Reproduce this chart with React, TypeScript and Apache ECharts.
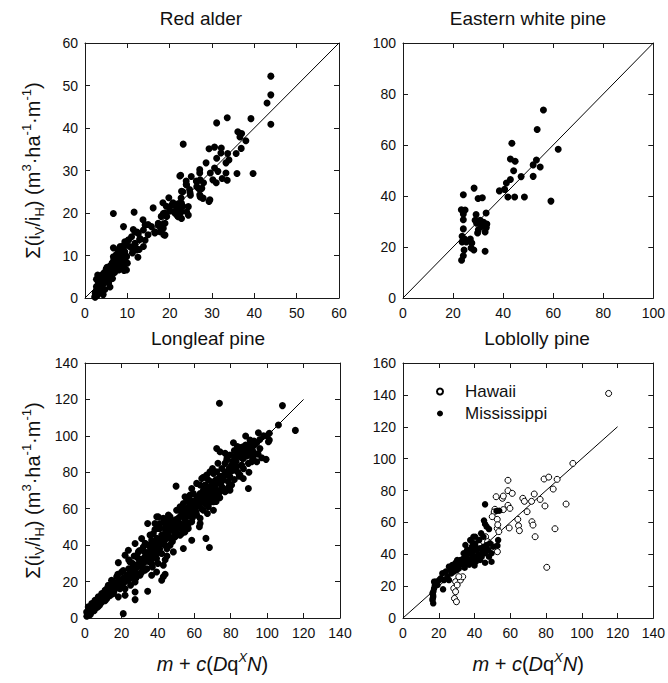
import React, { useEffect, useRef } from 'react';
import * as echarts from 'echarts';

const FONT = '"Liberation Sans", Arial, Helvetica, sans-serif';

const panelTitles = ['Red alder', 'Eastern white pine', 'Longleaf pine', 'Loblolly pine'];
const xMaxes = [60, 100, 140, 140];
const yMaxes = [60, 100, 140, 160];
const intervals = [10, 20, 20, 20];
const lineEnds = [60, 100, 120, 120];

const redAlder: number[][] = [
  [43.9, 52.2], [43.9, 47.8], [43.0, 45.9], [43.9, 40.9], [39.2, 42.2], [33.6, 42.4], [31.1, 41.2], [23.2, 36.2],
  [36.1, 39.1], [37.0, 38.7], [38.0, 37.0], [36.6, 37.9], [39.7, 29.3], [35.9, 29.3], [29.3, 35.1], [30.6, 35.5],
  [32.2, 35.3], [32.1, 34.1], [33.7, 34.0], [35.7, 34.0], [31.1, 32.9], [34.0, 32.5], [28.6, 31.8], [33.3, 31.8],
  [27.1, 30.2], [30.6, 30.6], [31.4, 29.8], [29.6, 29.4], [33.3, 29.4], [27.1, 29.4], [25.1, 28.6], [26.3, 27.5],
  [30.2, 27.8], [32.4, 28.1], [33.6, 27.7], [31.0, 27.1], [28.0, 27.1], [23.9, 27.5], [22.6, 28.9], [22.8, 25.1],
  [24.7, 25.5], [26.9, 25.7], [27.1, 24.3], [27.8, 23.5], [29.3, 22.7], [29.5, 23.1], [24.9, 24.2], [22.7, 23.5],
  [22.1, 22.2], [19.8, 23.6], [20.8, 22.4], [18.4, 22.4], [21.4, 21.6], [23.1, 21.6], [19.2, 21.6], [21.9, 20.8],
  [20.0, 20.6], [18.8, 20.0], [18.0, 19.2], [21.2, 20.0], [22.4, 19.2], [16.1, 21.2], [6.7, 19.9], [11.6, 20.2],
  [36.9, 35.2], [22.4, 28.7], [23.9, 26.7], [24.0, 26.6], [26.4, 27.4], [27.2, 27.8], [27.6, 25.8], [26.4, 26.2],
  [23.1, 25.0], [24.8, 24.8], [27.2, 23.8], [27.9, 23.5], [22.8, 22.3], [24.4, 21.5], [20.5, 21.9], [22.0, 21.1],
  [21.3, 20.3], [20.1, 20.5], [18.5, 19.9], [22.8, 20.3], [24.0, 20.3], [22.0, 19.1], [22.8, 18.7], [19.3, 19.2],
  [21.7, 19.5], [24.4, 19.5],
  [17.3, 17.2], [18.9, 17.6], [18.5, 16.4], [17.7, 15.6], [16.5, 15.6], [15.7, 16.8], [18.9, 14.8], [14.2, 17.2],
  [13.8, 16.0], [12.6, 15.2], [11.8, 15.6], [13.0, 14.0], [14.2, 13.6], [11.8, 12.9], [11.0, 14.4], [10.2, 13.6],
  [10.6, 12.1], [12.2, 11.3], [13.8, 12.1], [9.1, 16.8], [8.3, 12.1], [7.9, 11.3], [9.4, 10.9], [9.8, 9.7],
  [8.7, 9.7], [7.5, 10.1], [6.7, 9.7], [7.1, 8.2], [8.3, 8.2], [9.8, 6.6], [13.7, 18.4], [14.9, 17.3],
  [12.3, 15.5], [11.4, 16.1], [10.3, 13.7], [9.4, 13.2], [12.9, 13.7], [14.9, 14.9], [16.5, 15.3], [17.6, 16.9],
  [18.4, 17.3], [18.0, 15.7], [18.6, 14.9], [17.3, 17.6], [12.5, 9.6], [9.8, 9.8], [9.0, 12.2], [7.8, 11.4],
  [6.7, 11.8], [8.2, 10.2], [11.0, 11.8], [12.0, 11.8], [12.8, 11.4], [11.2, 10.6], [9.2, 6.5], [10.0, 8.2],
  [7.1, 7.5], [5.9, 7.5], [5.1, 6.7], [4.5, 5.9], [3.5, 5.1], [3.1, 3.9], [2.7, 2.7], [2.4, 1.2], [2.4, 0.2],
  [2.3, 0.3], [2.5, 0.8], [2.6, 1.5], [2.8, 2.2], [3.0, 1.0], [3.1, 2.8], [3.2, 3.5], [3.4, 1.8], [3.5, 4.2],
  [3.6, 2.6], [3.8, 3.0], [3.9, 5.0], [4.0, 4.0], [4.1, 2.2], [4.2, 5.6], [4.4, 3.4], [4.5, 4.6], [4.6, 6.0],
  [4.8, 5.2], [4.9, 3.8], [5.0, 6.8], [5.1, 4.4], [5.2, 7.2], [5.4, 5.8], [5.5, 6.4], [5.6, 3.6], [5.8, 7.0],
  [6.0, 5.0], [6.1, 7.6], [6.2, 6.2], [6.4, 8.2], [6.5, 4.6], [6.6, 7.0], [6.8, 9.0], [7.0, 6.0], [7.2, 8.0],
  [7.4, 10.2], [7.6, 7.4], [7.8, 9.4], [8.0, 6.6], [8.2, 11.0], [8.4, 8.6], [8.6, 10.0], [8.8, 7.8], [9.0, 11.6],
  [9.2, 9.0], [9.5, 8.0], [9.8, 12.4], [3.0, 5.4], [3.3, 4.8], [2.9, 0.6], [3.7, 1.4], [4.3, 0.8], [2.7, 4.4],
  [5.9, 2.6], [4.7, 2.0],
];

const easternWhitePine: number[][] = [
  [56.1, 73.7], [53.6, 66.1], [43.5, 60.7], [62.0, 58.3], [42.9, 54.5], [44.8, 53.6], [53.3, 54.1], [52.0, 52.2],
  [54.8, 51.4], [44.2, 49.9], [52.0, 47.7], [47.2, 47.6], [42.9, 46.5], [41.3, 45.1], [40.6, 42.6], [38.5, 42.0],
  [41.9, 39.6], [44.6, 39.6], [48.5, 39.6], [59.1, 38.0], [28.4, 43.1], [24.1, 40.5], [30.0, 39.0], [31.7, 39.3],
  [23.3, 34.6], [24.8, 34.5], [24.1, 32.9], [29.2, 32.7], [33.2, 33.3], [24.1, 30.7], [28.8, 30.5], [30.8, 30.5],
  [32.2, 29.7], [24.1, 27.1], [30.1, 26.8], [31.4, 28.1], [33.3, 27.6], [32.8, 25.9], [29.8, 25.5], [23.6, 24.2],
  [24.1, 22.9], [26.9, 23.1], [25.3, 22.0], [27.5, 21.6], [23.6, 22.0], [27.2, 19.6], [28.3, 18.8], [24.4, 18.8],
  [32.8, 18.3], [24.1, 16.6], [23.4, 14.8], [31.4, 29.2], [29.4, 29.3], [33.5, 29.0], [24.6, 23.1],
];

const longleafPine: number[][] = [
  [73.8, 117.9], [108.4, 116.6], [115.5, 103.0], [106.2, 106.0], [101.2, 101.4], [101.2, 97.7], [100.7, 96.8],
  [95.2, 101.7], [99.4, 87.1], [88.2, 99.9], [90.6, 97.7], [92.8, 97.2], [94.3, 96.2], [81.5, 96.2], [83.7, 94.1],
  [86.0, 93.7], [88.2, 95.0], [90.2, 95.0], [72.3, 93.1], [74.1, 91.3], [76.9, 90.4], [79.6, 89.5], [82.4, 88.6],
  [85.1, 88.9], [86.9, 87.6], [88.8, 88.9], [90.6, 89.5], [92.4, 86.7], [94.3, 85.8], [77.8, 86.7], [80.5, 84.0],
  [83.3, 83.1], [86.0, 84.0], [89.7, 84.9], [91.5, 85.8], [81.5, 81.2], [85.1, 78.5], [86.9, 76.6], [89.7, 71.1],
  [76.9, 84.9], [75.1, 82.1], [72.3, 80.3], [70.5, 79.4], [74.1, 77.6], [76.9, 78.5], [79.6, 77.6], [78.7, 74.8],
  [80.5, 73.0], [77.8, 70.2], [75.1, 72.0], [72.3, 73.9], [68.6, 80.3], [66.8, 78.5], [65.0, 77.2], [67.7, 75.7],
  [69.6, 74.8], [65.9, 73.0], [68.6, 72.1], [71.4, 71.1], [74.1, 69.3], [76.9, 69.3], [79.6, 70.2], [50.0, 72.4],
  [58.6, 71.1], [61.3, 73.9], [64.1, 76.6], [63.2, 73.0], [59.5, 68.4], [57.7, 67.5], [55.8, 65.6], [54.9, 66.6],
  [56.7, 63.8], [58.6, 64.4], [61.3, 66.6], [63.2, 68.4], [65.0, 70.2], [66.8, 67.5], [69.6, 68.4], [71.4, 66.6],
  [73.2, 68.4], [67.7, 64.7], [70.5, 63.8], [65.9, 62.9], [63.2, 62.9], [61.3, 61.1], [65.0, 59.2], [67.7, 61.1],
  [70.5, 59.2], [67.2, 57.4], [84.7, 77.9],
  [54.0, 62.9], [52.2, 61.1], [50.3, 59.2], [54.9, 59.2], [53.1, 56.5], [51.3, 54.7], [55.8, 55.6], [57.7, 57.4],
  [59.5, 58.3], [61.3, 56.5], [63.2, 54.7], [58.6, 52.8], [55.8, 51.9], [54.0, 50.1], [56.7, 49.2], [51.3, 50.1],
  [48.5, 52.8], [46.7, 55.6], [44.9, 53.7], [43.0, 54.7], [41.2, 51.9], [39.4, 55.6], [38.4, 51.9], [40.3, 49.2],
  [43.9, 49.2], [46.7, 48.2], [49.4, 46.4], [45.8, 44.6], [42.1, 45.5], [39.4, 43.7], [37.5, 46.4], [36.6, 42.7],
  [43.0, 41.8], [47.6, 42.7], [52.2, 45.5], [54.9, 47.3], [63.2, 51.9], [62.8, 50.1], [58.6, 42.7], [66.4, 43.7],
  [68.3, 38.7], [54.0, 38.2], [40.3, 40.9],
  [21.0, 2.4], [34.4, 51.9], [38.4, 48.6], [27.5, 14.3], [34.4, 14.7], [18.3, 30.4], [42.1, 20.7], [44.0, 24.0],
  [40.3, 55.5], [45.8, 56.5], [47.6, 53.7], [43.9, 51.9], [41.2, 49.1], [47.6, 48.2], [51.2, 50.0], [54.9, 51.9],
  [53.1, 46.4], [49.4, 44.5], [44.8, 43.6], [42.1, 40.9], [46.7, 40.0], [48.5, 36.3], [42.1, 35.4], [39.3, 32.6],
  [43.0, 29.0], [36.6, 29.9], [32.9, 33.5], [29.3, 36.3], [32.0, 39.0], [34.8, 40.0], [37.5, 41.8], [35.7, 45.5],
  [31.1, 43.6], [27.5, 40.9], [23.8, 37.2], [22.0, 34.5], [24.7, 30.8], [28.4, 29.0], [25.6, 26.2], [22.9, 23.5],
  [20.1, 25.3], [17.4, 22.6], [14.6, 20.7], [12.8, 18.0], [11.0, 15.2], [9.2, 13.4], [7.3, 11.6], [5.5, 9.7],
  [3.7, 7.9], [1.8, 6.1], [0.9, 3.3], [4.6, 5.1], [8.2, 8.8], [11.9, 10.6], [15.6, 13.4], [19.2, 16.1],
  [21.0, 18.9], [16.5, 17.1], [13.7, 15.2], [10.1, 9.7], [6.4, 7.0], [23.8, 20.7], [30.2, 23.5], [32.9, 26.2],
  [36.6, 23.5], [39.3, 25.3], [43.0, 22.6], [27.5, 19.8], [18.3, 11.6], [22.0, 12.5], [1.0, 1.0], [1.5, 2.0],
  [2.0, 1.5], [2.5, 3.0], [27.5, 10.1],
  [26, 30], [30, 32], [33, 36], [36, 38], [38, 40], [20, 20], [16, 19], [13, 12], [25, 22], [28, 25], [31, 28],
  [35, 31], [38, 35], [41, 38], [44, 40], [46, 45], [49, 48], [52, 52], [55, 54], [58, 56], [60, 60], [62, 63],
  [64, 66], [66, 69], [69, 71], [72, 76], [75, 75], [78, 80], [80, 83], [83, 86], [86, 90], [88, 92], [92, 92],
  [96, 98], [98, 100], [100, 100], [34, 36], [29, 33], [24, 27], [19, 21], [15, 16], [12, 14], [9, 10], [7, 8],
  [5, 6], [3, 4], [10, 12], [14, 18], [17, 19], [21, 22], [26, 24], [32, 30], [37, 33], [40, 36], [45, 38],
  [48, 42], [50, 47], [53, 49], [57, 52], [59, 55], [61, 58], [64, 60], [68, 63], [72, 64], [74, 66], [76, 71],
  [79, 72], [82, 76], [84, 80], [87, 82], [90, 80], [92, 88], [95, 90], [82, 92], [78, 88], [73, 85], [70, 82],
  [2, 2.5], [3, 2], [4, 5], [5, 4], [6, 5.5], [7, 6], [8, 7], [9, 8.5], [10, 11], [11, 9.5], [12, 12], [13, 13.5],
  [14, 12.5], [15, 14.5], [16, 15], [17, 16.5], [18, 18], [19, 17.5], [20, 19], [21, 21], [22, 20], [23, 22.5],
  [24, 24], [25, 25], [26, 27], [27, 26], [28, 27.5], [29, 29.5], [30, 28.5], [31, 31], [32, 32.5], [33, 31],
  [34, 33.5], [35, 35], [36, 34], [37, 37], [38, 38.5], [39, 37], [40, 40], [41, 42], [42, 43.5], [43, 45],
  [44, 46.5], [45, 47], [46, 49.5], [47, 51], [48, 50], [49, 52], [50, 54], [51, 53], [52, 55.5], [53, 58],
  [54, 56], [55, 60], [56, 58.5], [57, 61], [58, 60], [59, 62], [60, 64], [61, 63], [62, 65], [63, 67], [64, 64],
  [65, 66.5], [66, 64], [67, 70], [68, 68.5], [69, 66], [70, 72], [71, 70], [72, 70.5], [73, 75], [74, 74],
  [75, 78], [76, 76], [77, 80], [78, 78.5], [79, 82], [80, 80.5], [81, 86], [82, 84.5], [83, 89], [84, 91],
  [85, 92], [86, 88], [87, 94], [88, 90], [89, 93], [90, 92], [91, 93.5], [93, 95], [94, 90], [96, 93], [97, 88],
  [12, 16], [15, 20], [18, 24], [21, 26], [24, 32], [27, 34], [30, 37], [33, 41], [22, 16], [25, 18], [28, 22],
  [31, 25], [34, 27], [37, 28], [40, 30], [45, 34], [44, 32],
];

const loblollyHawaii: number[][] = [
  [115.0, 140.9], [95.0, 97.0], [78.9, 87.2], [81.5, 88.4], [86.2, 87.0], [84.0, 80.9], [91.2, 71.5], [79.4, 70.3],
  [85.0, 56.0], [80.4, 31.8], [73.9, 51.0], [58.7, 86.4], [58.7, 79.9], [61.1, 78.2], [52.1, 76.1], [55.6, 75.1],
  [56.1, 76.5], [58.7, 70.7], [59.8, 68.8], [56.1, 68.0], [51.4, 68.2], [51.0, 66.5], [49.9, 63.6], [67.0, 75.1],
  [67.9, 73.2], [73.4, 77.8], [71.9, 73.2], [76.7, 74.4], [69.4, 66.7], [64.2, 61.9], [64.6, 57.9], [65.1, 54.8],
  [72.1, 60.4], [72.7, 58.3], [59.4, 56.5], [52.7, 61.9], [52.7, 56.2], [53.6, 54.2], [52.8, 41.6], [47.3, 47.5],
  [44.0, 46.8], [45.9, 44.7], [49.5, 45.8], [29.4, 22.8], [28.4, 18.6], [30.3, 20.7], [29.4, 16.5], [28.8, 12.3],
  [29.9, 10.2], [32.1, 23.8], [33.4, 25.9], [31.2, 25.9], [41.8, 45.8], [43.5, 48.9], [46.2, 51.0], [43.1, 46.2],
  [45.0, 47.9], [47.3, 47.9], [38.5, 43.0], [40.0, 41.0], [53.0, 58.5],
];

const loblollyMississippi: number[][] = [
  [45.9, 71.3], [52.3, 67.1], [53.8, 67.3], [45.3, 61.1], [45.9, 59.0], [46.8, 57.3], [48.1, 55.8], [53.2, 48.9],
  [52.8, 45.4], [47.7, 42.7], [45.3, 42.7], [49.5, 35.3], [45.9, 34.7], [44.0, 40.6], [41.8, 39.5], [39.4, 38.5],
  [37.6, 40.6], [35.8, 42.6], [38.5, 44.7], [40.4, 46.8], [42.6, 48.9], [45.0, 51.0], [43.7, 53.1], [40.4, 51.0],
  [37.6, 48.9], [34.9, 45.8], [36.7, 36.4], [33.9, 37.4], [32.1, 36.4], [29.4, 34.7], [39.4, 51.0], [36.7, 42.6],
  [38.9, 41.6], [41.3, 42.6], [43.1, 43.7], [45.0, 44.7], [46.8, 45.8], [48.6, 46.8], [50.5, 44.7], [45.9, 40.6],
  [48.1, 38.5], [49.5, 40.6], [43.1, 36.4], [40.7, 35.3], [38.5, 37.4], [35.8, 39.5], [33.9, 40.6], [33.0, 35.3],
  [31.2, 33.2], [29.4, 32.2], [27.5, 33.2], [25.7, 32.2], [26.6, 30.1], [23.9, 29.1], [22.0, 28.0], [24.8, 25.9],
  [22.9, 23.8], [20.2, 23.8], [18.3, 22.8], [21.1, 24.9], [19.3, 20.7], [17.4, 18.6], [16.5, 15.5], [16.9, 13.4],
  [16.5, 11.3], [16.9, 9.2], [17.4, 22.8], [22.4, 18.0], [25.7, 23.8], [28.4, 29.1], [31.2, 31.1], [33.9, 33.2],
  [35.8, 34.7], [30.3, 36.4], [16.6, 12.2], [16.8, 14.5], [17.0, 16.8], [17.8, 20.5], [18.8, 21.5], [27.0, 28.0],
  [28.0, 31.0], [30.0, 30.0], [34.5, 31.5], [37.0, 33.5], [38.5, 35.0], [40.0, 33.0], [42.0, 38.0], [44.0, 38.5],
  [41.0, 44.0], [39.0, 47.0],
];

const grids = [
  { left: 85, top: 43, width: 254, height: 255 },
  { left: 403, top: 43, width: 255, height: 255 },
  { left: 85, top: 363, width: 255, height: 255 },
  { left: 403, top: 363, width: 255, height: 255 },
];

const titlePos = [
  [201, 18.5],
  [528, 18.5],
  [208, 338.5],
  [537, 338.5],
];

export default function App() {
  const ref = useRef<HTMLDivElement>(null);
  useEffect(() => {
    const chart = echarts.init(ref.current!, null, { renderer: 'svg' });
    const axisLine = { show: true, onZero: false, lineStyle: { color: '#1a1a1a', width: 1 } };
    const tick = { show: true, inside: true, length: 5, lineStyle: { color: '#1a1a1a', width: 1 } };
    const label = { fontSize: 14, fontFamily: FONT, color: '#111' };

    const yName = '{m|Σ(i}{sub|V}{m|/i}{sub|H}{m|) (m}{sup|3}{m|·ha}{sup|-1}{m|·m}{sup|-1}{m|)}';
    const yRich = {
      m: { fontSize: 20, fontFamily: FONT, color: '#111', lineHeight: 26, verticalAlign: 'middle' },
      sub: { fontSize: 13, fontFamily: FONT, color: '#111', lineHeight: 13, verticalAlign: 'bottom' },
      sup: { fontSize: 13, fontFamily: FONT, color: '#111', lineHeight: 13, verticalAlign: 'top' },
    };
    const xName = '{i|m}{r| + }{i|c}{r|(}{i|D}{r|q}{sup|X}{i|N}{r|)}';
    const xRich = {
      i: { fontSize: 20, fontFamily: FONT, fontStyle: 'italic', color: '#111', lineHeight: 26, verticalAlign: 'middle' },
      r: { fontSize: 20, fontFamily: FONT, color: '#111', lineHeight: 26, verticalAlign: 'middle' },
      sup: { fontSize: 13, fontFamily: FONT, fontStyle: 'italic', color: '#111', lineHeight: 13, verticalAlign: 'top' },
    };

    const xAxis: any[] = [];
    const yAxis: any[] = [];
    const series: any[] = [];
    for (let i = 0; i < 4; i++) {
      const bottomRow = i >= 2;
      const leftCol = i % 2 === 0;
      xAxis.push({
        type: 'value', gridIndex: i, min: 0, max: xMaxes[i], interval: intervals[i], position: 'bottom',
        axisLine, axisTick: tick, splitLine: { show: false },
        axisLabel: { ...label, margin: 8, showMaxLabel: true },
        name: bottomRow ? xName : '', nameLocation: 'middle', nameGap: 33,
        nameTextStyle: { rich: xRich },
      });
      xAxis.push({
        type: 'value', gridIndex: i, min: 0, max: xMaxes[i], interval: intervals[i], position: 'top',
        axisLine, axisTick: tick, splitLine: { show: false }, axisLabel: { show: false },
      });
      yAxis.push({
        type: 'value', gridIndex: i, min: 0, max: yMaxes[i], interval: intervals[i], position: 'left',
        axisLine, axisTick: tick, splitLine: { show: false },
        axisLabel: { ...label, margin: 7 },
        name: leftCol ? yName : '', nameLocation: 'middle', nameRotate: 90, nameGap: 39,
        nameTextStyle: { rich: yRich },
      });
      yAxis.push({
        type: 'value', gridIndex: i, min: 0, max: yMaxes[i], interval: intervals[i], position: 'right',
        axisLine, axisTick: tick, splitLine: { show: false }, axisLabel: { show: false },
      });
      series.push({
        type: 'line', xAxisIndex: 2 * i, yAxisIndex: 2 * i, data: [[0, 0], [lineEnds[i], lineEnds[i]]],
        symbol: 'none', silent: true, lineStyle: { color: '#000', width: 1 }, z: 1,
      });
    }
    const dot = { color: '#000', opacity: 1 };
    series.push({ type: 'scatter', name: 'Red alder', xAxisIndex: 0, yAxisIndex: 0, data: redAlder, symbolSize: 7, itemStyle: dot, z: 3 });
    series.push({ type: 'scatter', name: 'Eastern white pine', xAxisIndex: 2, yAxisIndex: 2, data: easternWhitePine, symbolSize: 7, itemStyle: dot, z: 3 });
    series.push({ type: 'scatter', name: 'Longleaf pine', xAxisIndex: 4, yAxisIndex: 4, data: longleafPine, symbolSize: 7, itemStyle: dot, z: 3 });
    series.push({ type: 'scatter', name: 'Hawaii', xAxisIndex: 6, yAxisIndex: 6, data: loblollyHawaii, symbolSize: 6, itemStyle: { color: '#fff', borderColor: '#000', borderWidth: 1, opacity: 1 }, z: 3 });
    series.push({ type: 'scatter', name: 'Mississippi', xAxisIndex: 6, yAxisIndex: 6, data: loblollyMississippi, symbolSize: 6.5, itemStyle: dot, z: 4 });

    const graphic = panelTitles.map((t, i) => ({
      type: 'text', x: titlePos[i][0], y: titlePos[i][1],
      style: { text: t, font: `19px ${FONT}`, fill: '#111', textAlign: 'center', textVerticalAlign: 'middle' },
    }));

    chart.setOption({
      animation: false,
      backgroundColor: '#fff',
      grid: grids,
      xAxis,
      yAxis,
      series,
      graphic,
      legend: {
        data: ['Hawaii', 'Mississippi'], orient: 'vertical', left: 431, top: 377, icon: 'circle',
        itemWidth: 6, itemHeight: 6, itemGap: 3,
        textStyle: { fontSize: 17, fontFamily: FONT, color: '#111', padding: [0, 0, 0, 17], lineHeight: 19 },
      },
    });
    return () => chart.dispose();
  }, []);
  return <div ref={ref} style={{ position: 'absolute', left: 0, top: 0, width: 668, height: 683 }} />;
}
